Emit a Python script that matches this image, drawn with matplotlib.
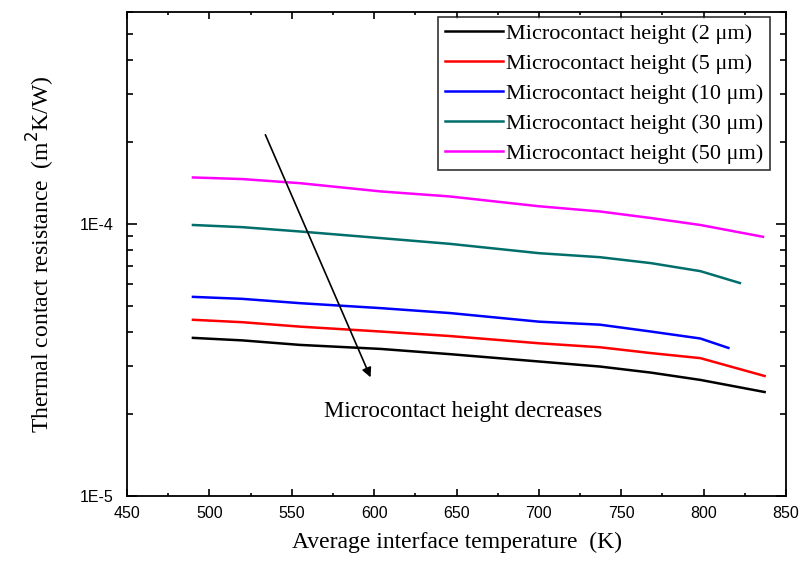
import matplotlib
matplotlib.use('Agg')
import matplotlib.pyplot as plt
from matplotlib.ticker import LogLocator, FixedLocator, FixedFormatter, MultipleLocator, NullFormatter

temp = [490, 520, 555, 604, 646, 700, 737, 768, 798]
h2 = [3.81e-5, 3.73e-5, 3.59e-5, 3.47e-5, 3.32e-5, 3.12e-5, 2.99e-5, 2.84e-5, 2.67e-5]
h5 = [4.44e-5, 4.35e-5, 4.19e-5, 4.02e-5, 3.87e-5, 3.64e-5, 3.52e-5, 3.35e-5, 3.21e-5]
h10 = [5.39e-5, 5.30e-5, 5.11e-5, 4.90e-5, 4.70e-5, 4.37e-5, 4.26e-5, 4.02e-5, 3.79e-5]
h30 = [9.90e-5, 9.72e-5, 9.37e-5, 8.86e-5, 8.44e-5, 7.80e-5, 7.54e-5, 7.17e-5, 6.70e-5]
h50 = [1.48e-4, 1.46e-4, 1.41e-4, 1.315e-4, 1.26e-4, 1.16e-4, 1.11e-4, 1.05e-4, 9.90e-5]

# last point of each curve
end_temp = [837, 837, 815, 822, 836]
end_val = [2.41e-5, 2.76e-5, 3.50e-5, 6.06e-5, 8.96e-5]

heights = ['2', '5', '10', '30', '50']
colors = ['black', '#ff0000', '#0000ff', '#006e6a', '#ff00ff']

ytick_vals = [1e-5, 1e-4]
ytick_labels = ['1E-5', '1E-4']

fig = plt.figure(figsize=(8.01, 5.65), dpi=100)
ax = fig.add_axes([0.1586, 0.1221, 0.8227, 0.8567])

series = [h2, h5, h10, h30, h50]
for i, s in enumerate(series):
    xs = temp + [end_temp[i]]
    ys = s + [end_val[i]]
    ax.plot(xs, ys, color=colors[i], lw=1.8,
            label='Microcontact height (%s \u03bcm)' % heights[i])

ax.set_yscale('log')
ax.set_xlim(450, 850)
ax.set_ylim(1e-5, 6e-4)

ax.xaxis.set_major_locator(MultipleLocator(50))
ax.xaxis.set_minor_locator(MultipleLocator(25))
ax.yaxis.set_major_locator(FixedLocator(ytick_vals))
ax.yaxis.set_major_formatter(FixedFormatter(ytick_labels))
ax.yaxis.set_minor_locator(LogLocator(base=10, subs=range(2, 10), numticks=20))
ax.yaxis.set_minor_formatter(NullFormatter())

ax.tick_params(which='both', direction='in', top=True, right=True, width=1.2)
ax.tick_params(axis='y', which='major', length=7, pad=10)
ax.tick_params(axis='y', which='minor', length=4)
ax.tick_params(axis='x', which='major', length=5, pad=7)
ax.tick_params(axis='x', which='minor', length=2)
ax.tick_params(labelsize=11.5)
for lab in ax.get_xticklabels() + ax.get_yticklabels():
    lab.set_family('Liberation Sans')
for sp in ax.spines.values():
    sp.set_linewidth(1.3)

serif = 'Liberation Serif'
ax.set_xlabel('Average interface temperature  (K)', family=serif, fontsize=17, labelpad=8)
ax.set_ylabel('Thermal contact resistance  (m$^2$K/W)', family=serif, fontsize=17, labelpad=16)

leg = ax.legend(loc='upper right', bbox_to_anchor=(0.9757, 0.9897), prop={'family': serif, 'size': 16},
                frameon=True, fancybox=False, edgecolor='black', handlelength=2.6,
                handletextpad=0.15, labelspacing=0.42, borderpad=0.3, borderaxespad=0)
leg.get_frame().set_linewidth(1.2)

ax.annotate('', xy=(598.5, 2.67e-5), xytext=(533.3, 2.17e-4),
            arrowprops=dict(arrowstyle='-|>', color='black', lw=1.2, mutation_scale=14))
ax.text(654, 2.05e-5, 'Microcontact height decreases', family=serif, fontsize=16.5,
        ha='center', va='center')

fig.savefig('out.png', dpi=100)
